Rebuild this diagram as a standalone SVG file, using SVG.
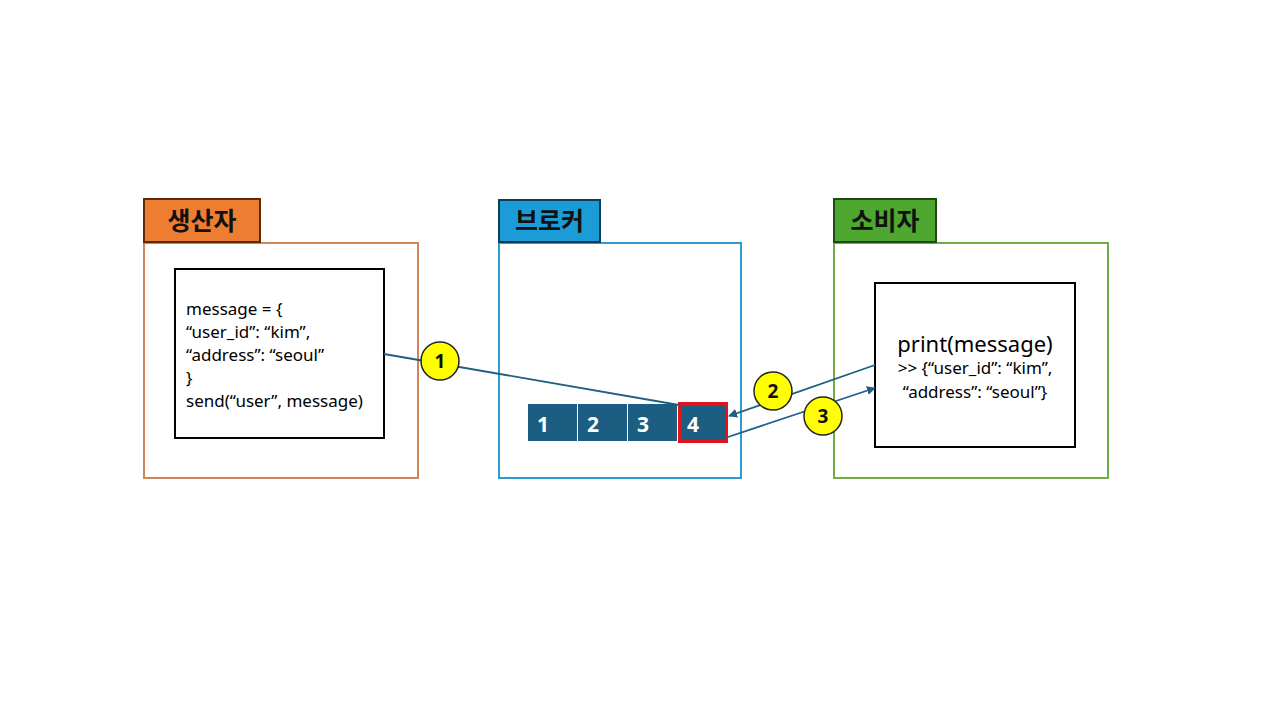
<svg xmlns="http://www.w3.org/2000/svg" width="1280" height="720" viewBox="0 0 1280 720">
<defs>
<style>
.kr{font-family:"Noto Sans CJK KR","Noto Sans",sans-serif;font-weight:bold;font-size:25px;fill:#111;text-anchor:middle}
.code{font-family:"Noto Sans","Noto Sans CJK KR",sans-serif;font-size:17px;fill:#000}
.cell{fill:#1B5E82}
.num{font-family:"Noto Sans","Open Sans",sans-serif;font-weight:bold;font-size:21px;fill:#fff}
.badge{fill:#FFFF00;stroke:#222;stroke-width:1.5}
.bnum{font-family:"Noto Sans","Open Sans",sans-serif;font-weight:bold;font-size:19px;fill:#111;text-anchor:middle}
.conn{stroke:#1F5F80;stroke-width:1.8;fill:none}
</style>
<marker id="ah" viewBox="0 0 10 10" refX="9" refY="5" markerWidth="5" markerHeight="5" orient="auto-start-reverse">
<path d="M0,0 L10,5 L0,10 z" fill="#1F5F80"/>
</marker>
</defs>
<rect width="1280" height="720" fill="#fff"/>

<g id="producer">
<rect x="144" y="243" width="274" height="235" fill="none" stroke="#D0845A" stroke-width="2"/>
<rect x="144" y="199" width="116" height="43" fill="#ED7D31" stroke="#5A2A0C" stroke-width="2"/>
<text class="kr" x="202" y="230">생산자</text>
<rect x="175" y="269" width="209" height="169" fill="#fff" stroke="#000" stroke-width="2"/>
<text class="code" x="186" y="315">message = {</text>
<text class="code" x="186" y="338">“user_id”: “kim”,</text>
<text class="code" x="186" y="361">“address”: “seoul”</text>
<text class="code" x="186" y="384">}</text>
<text class="code" x="186" y="407">send(“user”, message)</text>
</g>

<g id="broker">
<rect x="499" y="243" width="242" height="235" fill="none" stroke="#2E9AD0" stroke-width="2"/>
<rect x="499" y="200" width="101" height="42" fill="#1B9CD6" stroke="#0D3E58" stroke-width="2"/>
<text class="kr" x="549.5" y="230">브로커</text>
<rect class="cell" x="528" y="404" width="49" height="37"/>
<rect class="cell" x="578" y="404" width="49" height="37"/>
<rect class="cell" x="628" y="404" width="49" height="37"/>
<rect class="cell" x="678" y="404" width="49" height="37"/>
<rect x="679.5" y="403.5" width="47" height="38" fill="none" stroke="#E0141C" stroke-width="3"/>
<text class="num" x="537" y="432">1</text>
<text class="num" x="587" y="432">2</text>
<text class="num" x="637" y="432">3</text>
<text class="num" x="687" y="432">4</text>
</g>

<g id="consumer">
<rect x="834" y="243" width="274" height="235" fill="none" stroke="#70AD47" stroke-width="2"/>
<rect x="834" y="199" width="102" height="43" fill="#4EA72E" stroke="#1F4A12" stroke-width="2"/>
<text class="kr" x="885" y="230">소비자</text>
<rect x="875" y="283" width="200" height="164" fill="#fff" stroke="#000" stroke-width="2"/>
<text x="975" y="352" text-anchor="middle" font-family="Noto Sans, sans-serif" font-size="22" fill="#000">print(message)</text>
<text x="975" y="374" text-anchor="middle" font-family="Noto Sans, sans-serif" font-size="17" fill="#000">&gt;&gt; {“user_id”: “kim”,</text>
<text x="975" y="398" text-anchor="middle" font-family="Noto Sans, sans-serif" font-size="17" fill="#000">“address”: “seoul”}</text>
</g>

<g id="connectors">
<line class="conn" x1="384" y1="354" x2="679" y2="405"/>
<line class="conn" x1="875" y1="365" x2="729" y2="416" marker-end="url(#ah)"/>
<line class="conn" x1="728" y1="437" x2="875" y2="388" marker-end="url(#ah)"/>
</g>

<g id="badge1">
<circle class="badge" cx="440" cy="361" r="19"/>
<text class="bnum" x="440" y="368">1</text>
</g>
<g id="badge2">
<circle class="badge" cx="773" cy="391" r="19"/>
<text class="bnum" x="773" y="398">2</text>
</g>
<g id="badge3">
<circle class="badge" cx="823" cy="416" r="19"/>
<text class="bnum" x="823" y="423">3</text>
</g>
</svg>
